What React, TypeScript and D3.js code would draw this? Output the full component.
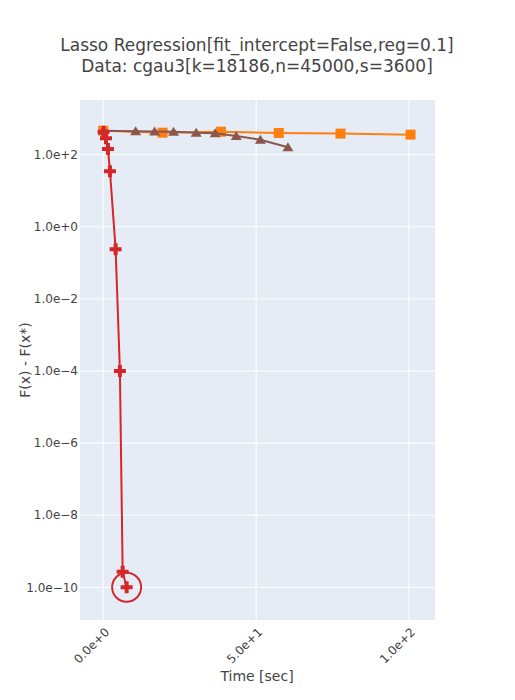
import React from "react";
import * as d3 from "d3";

const title1 = "Lasso Regression[fit_intercept=False,reg=0.1]";
const title2 = "Data: cgau3[k=18186,n=45000,s=3600]";
const xTitle = "Time [sec]";
const yTitle = "F(x) - F(x*)";

const redT = [0.1, 0.9, 1.55, 2.2, 4.05, 5.45, 6.35, 7.65];
const redV = [435, 285, 144, 35, 0.24, 1.0e-4, 2.7e-10, 1.0e-10];

const orangeT = [0, 19.4, 38.5, 57.4, 77.6, 100.5];
const orangeV = [462, 408, 435, 400, 385, 360];

const brownT = [0, 10.6, 16.8, 23.0, 30.4, 36.6, 43.5, 51.4, 60.4];
const brownV = [462, 445, 440, 435, 408, 394, 330, 260, 160];

const xTicks = [0, 50, 100];
const xTickLabels = ["0.0e+0", "5.0e+1", "1.0e+2"];
const yTicks = [1e2, 1, 1e-2, 1e-4, 1e-6, 1e-8, 1e-10];
const yTickLabels = ["1.0e+2", "1.0e+0", "1.0e\u22122", "1.0e\u22124", "1.0e\u22126", "1.0e\u22128", "1.0e\u221210"];

const W = 515, H = 700;
const L = 80, R = 435, T = 100, B = 620;
const FONT = "Verdana, 'DejaVu Sans', sans-serif";
const TEXT = "#444";

export default function App() {
  const x = d3.scaleLinear().domain([-7.6, 108.5]).range([L, R]);
  const y = d3.scaleLog().domain([Math.pow(10, -10.907), Math.pow(10, 3.517)]).range([B, T]);
  const line = d3.line<[number, number]>().x(d => x(d[0])).y(d => y(d[1]));

  const red = redT.map((t, i) => [t, redV[i]] as [number, number]);
  const orange = orangeT.map((t, i) => [t, orangeV[i]] as [number, number]);
  const brown = brownT.map((t, i) => [t, brownV[i]] as [number, number]);

  const cross = (cx: number, cy: number, k: number) => {
    const a = 6, b = 2;
    const p = `M${cx - b},${cy - a}h${2 * b}v${a - b}h${a - b}v${2 * b}h${-(a - b)}v${a - b}h${-2 * b}v${-(a - b)}h${-(a - b)}v${-2 * b}h${a - b}z`;
    return <path key={k} d={p} fill="#d62728" />;
  };
  const last = red[red.length - 1];

  return (
    <svg width={W} height={H} style={{ position: "absolute", left: 0, top: 0, background: "#fff" }}>
      <rect x={L} y={T} width={R - L} height={B - T} fill="#e5ecf6" />
      <g stroke="#fff" strokeWidth={1}>
        {xTicks.map(t => <line key={t} x1={x(t)} x2={x(t)} y1={T} y2={B} />)}
        {yTicks.map(t => <line key={t} x1={L} x2={R} y1={y(t)} y2={y(t)} />)}
      </g>
      <g clipPath="url(#clip)">
        <defs>
          <clipPath id="clip"><rect x={L} y={T} width={R - L} height={B - T} /></clipPath>
        </defs>
        <path d={line(orange) || ""} fill="none" stroke="#ff7f0e" strokeWidth={2} />
        {orange.map((d, i) => (
          <rect key={i} x={x(d[0]) - 5} y={y(d[1]) - 5} width={10} height={10} fill="#ff7f0e" />
        ))}
        <path d={line(brown) || ""} fill="none" stroke="#8c564b" strokeWidth={2} />
        {brown.map((d, i) => {
          const cx = x(d[0]), cy = y(d[1]);
          return <path key={i} d={`M${cx},${cy - 5}L${cx + 5.5},${cy + 4}L${cx - 5.5},${cy + 4}Z`} fill="#8c564b" />;
        })}
        <path d={line(red) || ""} fill="none" stroke="#d62728" strokeWidth={2} />
        {red.map((d, i) => cross(x(d[0]), y(d[1]), i))}
        <circle cx={x(last[0])} cy={y(last[1])} r={14.5} fill="none" stroke="#d62728" strokeWidth={2} />
      </g>
      <g fill={TEXT} fontFamily={FONT} fontSize={12}>
        {yTicks.map((t, i) => (
          <text key={t} x={L - 2} y={y(t)} dy="0.35em" textAnchor="end">{yTickLabels[i]}</text>
        ))}
        {xTicks.map((t, i) => (
          <text key={t} transform={`translate(${x(t) + 4},${B + 10}) rotate(-45)`} textAnchor="end" dy="0.35em">{xTickLabels[i]}</text>
        ))}
      </g>
      <g fill={TEXT} fontFamily={FONT} textAnchor="middle">
        <text x={257} y={51} fontSize={17}>{title1}</text>
        <text x={257} y={72} fontSize={17}>{title2}</text>
        <text x={257} y={681} fontSize={14}>{xTitle}</text>
        <text transform={`translate(30,${(T + B) / 2}) rotate(-90)`} fontSize={14}>{yTitle}</text>
      </g>
    </svg>
  );
}
